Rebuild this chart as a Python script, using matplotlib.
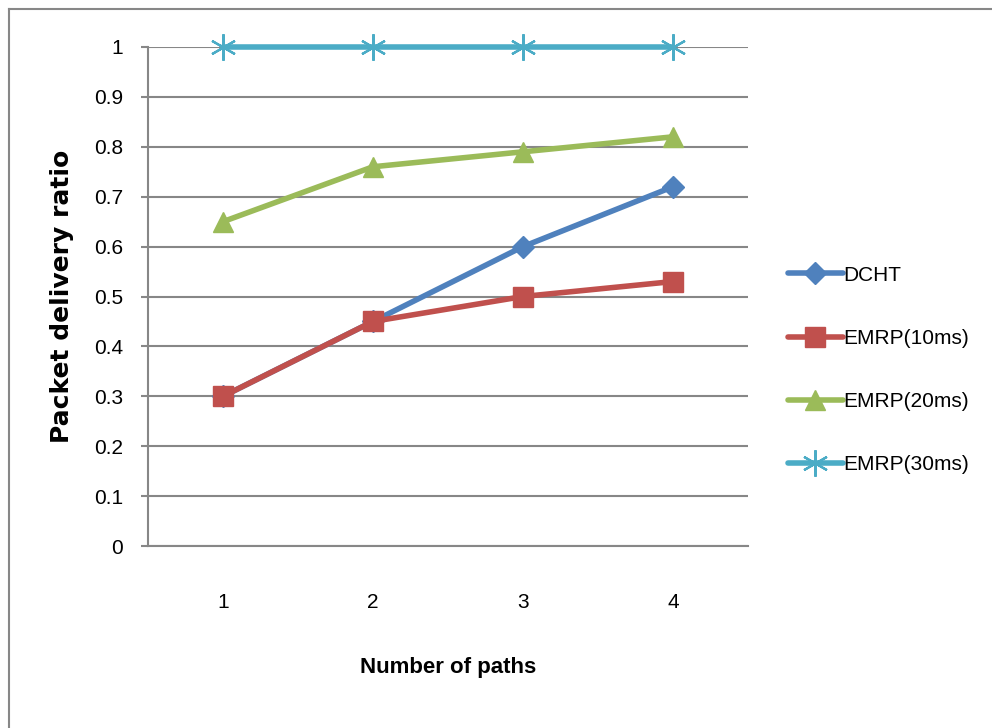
import matplotlib
matplotlib.use('Agg')
import matplotlib.pyplot as plt
from matplotlib.lines import Line2D
import numpy as np

# ─── DATA ────────────────────────────────────────────────────────────────────
paths = [1, 2, 3, 4]
dcht      = [0.30, 0.45, 0.60, 0.72]
emrp_10ms = [0.30, 0.45, 0.50, 0.53]
emrp_20ms = [0.65, 0.76, 0.79, 0.82]
emrp_30ms = [1.00, 1.00, 1.00, 1.00]

# name, values, colour, marker, marker size, marker edge width
series = [
    ('DCHT',       dcht,      '#4F81BD', 'D',       11.0, 1.0),
    ('EMRP(10ms)', emrp_10ms, '#C0504D', 's',       14.5, 1.0),
    ('EMRP(20ms)', emrp_20ms, '#9BBB59', '^',       15.0, 1.0),
    ('EMRP(30ms)', emrp_30ms, '#4BACC6', (6, 2, 0), 19.0, 1.6),
]

# ─── STYLE ───────────────────────────────────────────────────────────────────
FONT = ['Liberation Sans Narrow', 'Liberation Sans', 'DejaVu Sans']
GRAY = '#878787'
plt.rcParams.update({
    'font.family': FONT,
    'font.size': 15,
})

fig = plt.figure(figsize=(9.92, 7.28), dpi=100)
ax = fig.add_axes([148 / 992, 1 - 546 / 728, 600 / 992, 499 / 728])

for name, vals, color, mkr, ms, mew in series:
    ax.plot(paths, vals, color=color, lw=4, marker=mkr, ms=ms,
            mew=mew, mec=color, label=name, zorder=3, clip_on=False,
            solid_capstyle='round')

# ─── AXES ────────────────────────────────────────────────────────────────────
ax.set_xlim(0.5, 4.5)
ax.set_ylim(0, 1)
ax.set_xticks(paths)
ax.set_yticks(np.arange(0, 1.01, 0.1))
ax.set_yticklabels(['0', '0.1', '0.2', '0.3', '0.4', '0.5', '0.6', '0.7', '0.8', '0.9', '1'])
ax.grid(True, axis='y', color=GRAY, lw=1.5, zorder=0)
ax.set_axisbelow(True)
for s in ('top', 'right'):
    ax.spines[s].set_visible(False)
for s in ('left', 'bottom'):
    ax.spines[s].set_color(GRAY)
    ax.spines[s].set_linewidth(1.5)
ax.tick_params(axis='y', direction='out', length=5, width=1.5, color=GRAY, pad=13)
ax.tick_params(axis='x', length=0, pad=34)

ax.set_xlabel('Number of paths', fontweight='bold', fontsize=16, labelpad=32)
ax.set_ylabel('Packet delivery ratio', family='DejaVu Sans', fontweight='bold',
              fontsize=18, labelpad=14)

ax.legend(loc='center left', bbox_to_anchor=(780 / 992, 1 - 370 / 728),
          bbox_transform=fig.transFigure, frameon=False, numpoints=1,
          handlelength=2.6, handletextpad=0.05, labelspacing=2.12,
          borderaxespad=0)

# outer chart border (top and left edges)
fig.add_artist(Line2D([9 / 992, 9 / 992], [0, 1 - 9 / 728], transform=fig.transFigure,
                      color=GRAY, lw=1.5))
fig.add_artist(Line2D([9 / 992, 1], [1 - 9 / 728, 1 - 9 / 728], transform=fig.transFigure,
                      color=GRAY, lw=1.5))

fig.savefig('out.png', dpi=100)
